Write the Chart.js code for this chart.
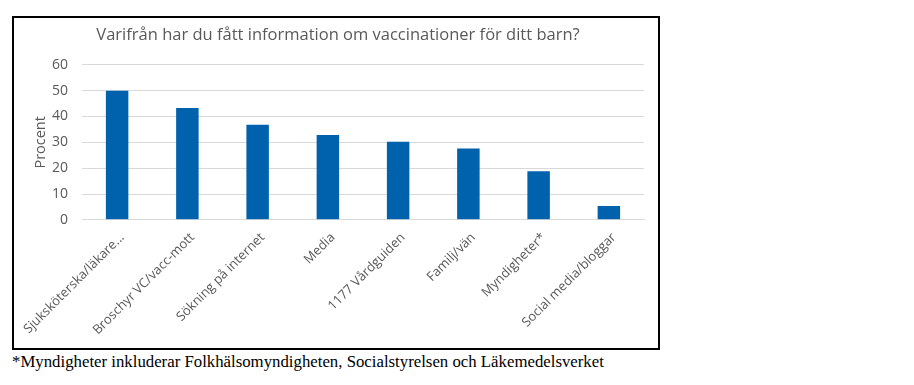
<!DOCTYPE html>
<html>
<head>
<meta charset="utf-8">
<script src="https://cdn.jsdelivr.net/npm/chart.js@4"></script>
<style>
  body { margin: 0; background: #fff; }
  #box {
    position: absolute; left: 12px; top: 16px;
    width: 644px; height: 330px;
    border: 2px solid #000;
  }
  #note {
    position: absolute; left: 12px; top: 352px;
    font-family: "Liberation Serif", serif; font-size: 16.8px; color: #000;
  }
</style>
</head>
<body>
<div id="box"><canvas id="myChart" width="644" height="330"></canvas></div>
<div id="note">*Myndigheter inkluderar Folkhälsomyndigheten, Socialstyrelsen och Läkemedelsverket</div>
<script>
const labels = ['Sjuksköterska/läkare...', 'Broschyr VC/vacc-mott', 'Sökning på internet', 'Media',
  '1177 Vårdguiden', 'Familj/vän', 'Myndigheter*', 'Social media/bloggar'];
const procent = [50, 43.3, 36.8, 32.8, 30.2, 27.6, 18.8, 5.4];
const yTicks = [0, 10, 20, 30, 40, 50, 60];

const ctx = document.getElementById('myChart').getContext('2d');
const grey = '#595959';

const data = {
  labels: labels,
  datasets: [{
    label: 'Procent',
    backgroundColor: '#0062AC',
    data: procent,
    categoryPercentage: 1,
    barPercentage: 0.32
  }]
};

const config = {
  type: 'bar',
  data: data,
  options: {
    responsive: false,
    animation: false,
    layout: { padding: { left: 18, right: 14, top: 2, bottom: 8 } },
    plugins: {
      legend: { display: false },
      tooltip: { enabled: false },
      title: {
        display: true,
        text: 'Varifrån har du fått information om vaccinationer för ditt barn?',
        color: grey,
        font: { family: 'Open Sans', size: 16.5, weight: 'normal' },
        padding: { top: 5, bottom: 20 }
      }
    },
    scales: {
      x: {
        grid: { display: false },
        border: { color: '#d9d9d9' },
        // let the rotated first label hang over the y axis, like the original
        afterFit: scale => { scale.paddingLeft = 0; scale.paddingRight = 0 },
        ticks: {
          color: grey,
          font: { family: 'Open Sans', size: 13 },
          minRotation: 45, maxRotation: 45,
          labelOffset: 5,
          padding: 2
        }
      },
      y: {
        min: 0, max: 60,
        afterBuildTicks: axis => { axis.ticks = yTicks.map(v => ({ value: v })) },
        afterFit: axis => { axis.width = 50 },
        grid: { color: '#d9d9d9', drawTicks: false },
        border: { display: false },
        ticks: {
          color: grey,
          font: { family: 'Open Sans', size: 14 },
          padding: 14
        },
        title: {
          display: true,
          text: 'Procent',
          color: grey,
          font: { family: 'Open Sans', size: 14.5 },
          padding: 0
        }
      }
    }
  }
};

const myChart = new Chart(ctx, config);
</script>
</body>
</html>
